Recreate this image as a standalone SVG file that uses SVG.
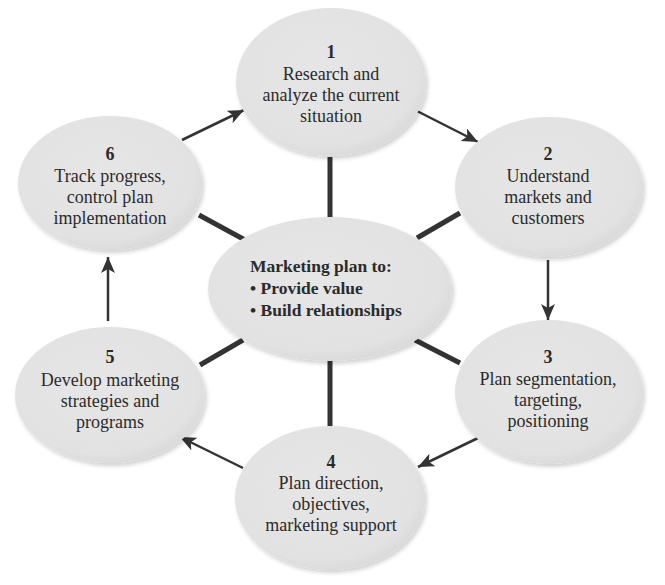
<svg xmlns="http://www.w3.org/2000/svg" width="665" height="585" viewBox="0 0 665 585">
<defs>
<radialGradient id="g" cx="0.45" cy="0.42" r="0.6">
<stop offset="0" stop-color="#e6e6e6"/>
<stop offset="0.85" stop-color="#e2e2e2"/>
<stop offset="1" stop-color="#d9d9d9"/>
</radialGradient>
<filter id="sh" x="-10%" y="-10%" width="125%" height="125%">
<feGaussianBlur in="SourceAlpha" stdDeviation="2"/>
<feOffset dx="2" dy="3" result="b"/>
<feComponentTransfer><feFuncA type="linear" slope="0.18"/></feComponentTransfer>
<feMerge><feMergeNode/><feMergeNode in="SourceGraphic"/></feMerge>
</filter>
<marker id="ah" markerUnits="userSpaceOnUse" markerWidth="18" markerHeight="14" refX="16" refY="7" orient="auto">
<path d="M0,0 L16,7 L0,14 L4,7 Z" fill="#333"/>
</marker>
</defs>
<style>
.n{fill:url(#g);filter:url(#sh)}
text{font-family:'Liberation Serif','Times New Roman','DejaVu Serif',serif;fill:#2b2b2b}
.t{font-size:18px;text-anchor:middle}
.b{font-weight:bold}
.c{font-size:17.5px;font-weight:bold}
.spoke{stroke:#333;stroke-width:5;fill:none}
.arr{stroke:#333;stroke-width:2.5;fill:none;marker-end:url(#ah)}
</style>
<rect width="665" height="585" fill="#fff"/>
<g id="connectors">
<line class="spoke" x1="330" y1="157" x2="330" y2="219"/>
<line class="spoke" x1="330" y1="360" x2="330" y2="426"/>
<line class="spoke" x1="199" y1="215" x2="245" y2="240"/>
<line class="spoke" x1="417" y1="238" x2="460" y2="213"/>
<line class="spoke" x1="415" y1="340" x2="460" y2="363"/>
<line class="spoke" x1="200" y1="365" x2="243" y2="340"/>
<line class="arr" x1="417" y1="111" x2="478" y2="142"/>
<line class="arr" x1="548" y1="260" x2="548" y2="320"/>
<line class="arr" x1="478" y1="438" x2="418" y2="467"/>
<line class="arr" x1="243" y1="468" x2="180" y2="437"/>
<line class="arr" x1="108" y1="321" x2="108" y2="257"/>
<line class="arr" x1="182" y1="140" x2="244" y2="110"/>
</g>
<g id="node1">
<ellipse class="n" cx="331" cy="82" rx="95" ry="74"/>
<text class="t b" x="331" y="58">1</text>
<text class="t" x="331" y="80">Research and</text>
<text class="t" x="331" y="101">analyze the current</text>
<text class="t" x="331" y="122">situation</text>
</g>
<g id="node2">
<ellipse class="n" cx="549" cy="187" rx="94" ry="70"/>
<text class="t b" x="548" y="160">2</text>
<text class="t" x="548" y="182">Understand</text>
<text class="t" x="548" y="203">markets and</text>
<text class="t" x="548" y="224">customers</text>
</g>
<g id="node3">
<ellipse class="n" cx="549" cy="392" rx="94" ry="72"/>
<text class="t b" x="548" y="363">3</text>
<text class="t" x="548" y="385">Plan segmentation,</text>
<text class="t" x="548" y="406">targeting,</text>
<text class="t" x="548" y="427">positioning</text>
</g>
<g id="node4">
<ellipse class="n" cx="330" cy="498" rx="95" ry="72"/>
<text class="t b" x="331" y="468">4</text>
<text class="t" x="331" y="489">Plan direction,</text>
<text class="t" x="331" y="510">objectives,</text>
<text class="t" x="331" y="531">marketing support</text>
</g>
<g id="node5">
<ellipse class="n" cx="110" cy="395" rx="95" ry="68"/>
<text class="t b" x="110" y="363">5</text>
<text class="t" x="110" y="386">Develop marketing</text>
<text class="t" x="110" y="407">strategies and</text>
<text class="t" x="110" y="428">programs</text>
</g>
<g id="node6">
<ellipse class="n" cx="110" cy="183" rx="92" ry="67"/>
<text class="t b" x="110" y="160">6</text>
<text class="t" x="110" y="182">Track progress,</text>
<text class="t" x="110" y="203">control plan</text>
<text class="t" x="110" y="224">implementation</text>
</g>
<g id="center">
<ellipse class="n" cx="330" cy="289" rx="122" ry="72"/>
<text class="c" x="250" y="272">Marketing plan to:</text>
<text class="c" x="250" y="294">• Provide value</text>
<text class="c" x="250" y="316">• Build relationships</text>
</g>
</svg>
